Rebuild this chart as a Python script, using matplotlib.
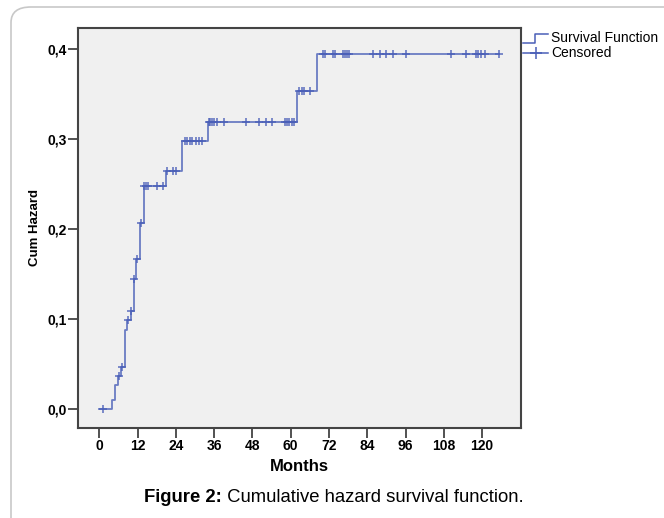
import numpy as np
import matplotlib
matplotlib.use("Agg")
import matplotlib.pyplot as plt
from matplotlib.patches import FancyBboxPatch

# ---- data ----
step_times = [0, 4.1, 5.0, 5.9, 6.7, 8.0, 8.8, 9.8, 10.8, 11.6, 12.8, 13.9,
              20.9, 26.0, 34.0, 62.1, 68.1]
step_values = [0.0, 0.010, 0.027, 0.037, 0.047, 0.088, 0.099, 0.109, 0.144,
               0.167, 0.206, 0.248, 0.264, 0.298, 0.319, 0.353, 0.394]
end_time = 125.2
censor_times = [1.0, 6.1, 7.1, 9.1, 10.0, 11.0, 11.9, 13.0,
                14.0, 14.6, 15.2, 18.2, 20.1,
                21.2, 23.2, 24.0,
                27.0, 27.6, 28.4, 29.2, 30.2, 31.3, 32.2,
                34.3, 34.8, 35.4, 36.0, 36.9, 39.1, 46.1, 50.0, 52.1, 54.0,
                58.1, 58.8, 59.6, 60.3, 61.0,
                62.7, 63.4, 64.3, 66.1,
                70.0, 70.8, 73.2, 74.0, 76.3, 77.0, 77.7, 78.3, 85.9, 88.0,
                90.0, 92.1, 96.1, 110.1, 115.0, 118.1, 118.8, 119.7, 120.8, 125.2]
x_ticks = [0, 12, 24, 36, 48, 60, 72, 84, 96, 108, 120]
y_ticks = [0.0, 0.1, 0.2, 0.3, 0.4]
y_tick_labels = ["0,0", "0,1", "0,2", "0,3", "0,4"]

plt.rcParams['font.family'] = ['Liberation Sans', 'DejaVu Sans']

W, H = 664, 518
fig = plt.figure(figsize=(W / 100, H / 100), dpi=100)
fig.patch.set_facecolor('white')

# outer rounded frame
frame = FancyBboxPatch((11 / W, -0.05), 1.1, 1 - 7 / H + 0.05,
                       boxstyle="round,pad=0,rounding_size=0.03",
                       transform=fig.transFigure, fill=False,
                       edgecolor='#c8c8c8', linewidth=1.2, zorder=0)
fig.patches.append(frame)

ax = fig.add_axes([78 / W, 1 - 428 / H, (521 - 78) / W, (428 - 28) / H])
ax.set_facecolor('#f0f0f0')

line_color = '#4a5fb8'
xs = list(step_times) + [end_time]
ys = list(step_values) + [step_values[-1]]
ax.step(xs, ys, where='post', color=line_color, linewidth=1.3, alpha=0.8)

idx = np.searchsorted(step_times, censor_times, side='right') - 1
cy = np.array(step_values)[idx]
ax.plot(censor_times, cy, linestyle='none', marker='+', markersize=5.5,
        markeredgewidth=1.1, color=line_color, alpha=0.9)

ax.set_xlim(-6.7, 132.2)
ax.set_ylim(-0.021, 0.423)
ax.set_xticks(x_ticks)
ax.set_xticklabels([str(t) for t in x_ticks], fontweight='bold', fontsize=10)
ax.set_yticks(y_ticks)
ax.set_yticklabels(y_tick_labels, fontweight='bold', fontsize=10)
ax.tick_params(direction='out', length=7, width=1.2, color='#333333', pad=1)
for s in ax.spines.values():
    s.set_color('#444444')
    s.set_linewidth(1.5)

ax.set_xlabel('Months', fontweight='bold', fontsize=12, labelpad=4)
ax.set_ylabel('Cum Hazard', fontweight='bold', fontsize=9.5, labelpad=5)

# legend drawn in figure coords
lx0, lx1 = 523 / W, 548 / W
y1 = 1 - 38 / H
y2 = 1 - 53 / H
fig.lines.append(plt.Line2D([lx0, 535 / W, 535 / W, lx1],
                            [y1 - 5 / H, y1 - 5 / H, y1 + 4 / H, y1 + 4 / H],
                            transform=fig.transFigure, color=line_color, linewidth=1.1))
fig.lines.append(plt.Line2D([lx0, lx1], [y2, y2], transform=fig.transFigure,
                            color=line_color, linewidth=1.1))
fig.lines.append(plt.Line2D([535.5 / W], [y2], transform=fig.transFigure,
                            marker='+', markersize=9, markeredgewidth=1.1,
                            color=line_color, linestyle='none'))
fig.text(551 / W, y1, 'Survival Function', fontsize=10, va='center', ha='left')
fig.text(551 / W, y2, 'Censored', fontsize=10, va='center', ha='left')

# caption
t1 = fig.text(0.5, 1 - 498 / H, 'Figure 2:', fontweight='bold', fontsize=13.3,
              ha='left', va='center')
fig.canvas.draw()
r = fig.canvas.get_renderer()
cap2 = ' Cumulative hazard survival function.'
t2 = fig.text(0, 1 - 498 / H, cap2, fontsize=13.3, ha='left', va='center')
w1 = t1.get_window_extent(r).width
w2 = t2.get_window_extent(r).width
start = 334 - (w1 + w2) / 2
t1.set_x(start / W)
t2.set_x((start + w1) / W)

fig.savefig('out.png', dpi=100)
